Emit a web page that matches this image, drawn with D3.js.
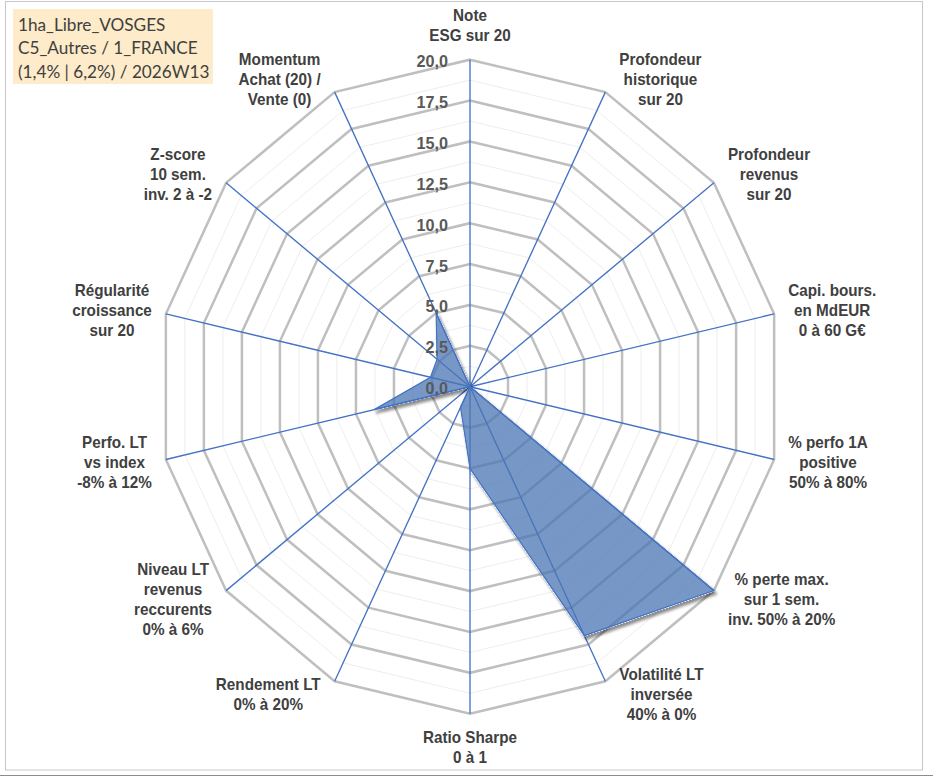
<!DOCTYPE html>
<html>
<head>
<meta charset="utf-8">
<script src="https://cdn.jsdelivr.net/npm/d3@7"></script>
<style>
  body { margin: 0; background: #fff; }
  svg { display: block; }
</style>
</head>
<body>
<script>
    // axis labels (clockwise from the top), one array of lines per axis
    var axisLabels = [
      ["Note", "ESG sur 20"],
      ["Profondeur", "historique", "sur 20"],
      ["Profondeur", "revenus", "sur 20"],
      ["Capi. bours.", "en MdEUR", "0 à 60 G€"],
      ["% perfo 1A", "positive", "50% à 80%"],
      ["% perte max.", "sur 1 sem.", "inv. 50% à 20%"],
      ["Volatilité LT", "inversée", "40% à 0%"],
      ["Ratio Sharpe", "0 à 1"],
      ["Rendement LT", "0% à 20%"],
      ["Niveau LT", "revenus", "reccurents", "0% à 6%"],
      ["Perfo. LT", "vs index", "-8% à 12%"],
      ["Régularité", "croissance", "sur 20"],
      ["Z-score", "10 sem.", "inv. 2 à -2"],
      ["Momentum", "Achat (20) /", "Vente (0)"]
    ];

    // notes sur 20
    var values = [0, 0, 0, 0, 0, 20, 16.9, 5.0, 1.4, 0, 6.3, 2.6, 2.7, 5.0];

    var tickValues = [0, 2.5, 5, 7.5, 10, 12.5, 15, 17.5, 20];
    var minorValues = [1.25, 3.75, 6.25, 8.75, 11.25, 13.75, 16.25, 18.75];

    var titleLines = ["1ha_Libre_VOSGES", "C5_Autres / 1_FRANCE", "(1,4% | 6,2%) / 2026W13"];

    var width = 933, height = 776;
    var cx = 470, cy = 386.7, R = 327, sx = 0.954;
    var n = axisLabels.length;

    var fr = d3.formatLocale({decimal: ",", thousands: " ", grouping: [3], currency: ["", " €"]});
    var fmt = fr.format(".1f");

    var svg = d3.select("body").append("svg")
        .attr("width", width)
        .attr("height", height);

    // shadow only outside the filled shape
    var f = svg.append("defs").append("filter")
        .attr("id", "shadow")
        .attr("x", "-20%").attr("y", "-20%")
        .attr("width", "140%").attr("height", "140%");
    f.append("feComponentTransfer").attr("in", "SourceAlpha").attr("result", "mask")
      .append("feFuncA").attr("type", "linear").attr("slope", 20);
    f.append("feGaussianBlur").attr("in", "mask").attr("stdDeviation", 1.6).attr("result", "b");
    f.append("feOffset").attr("in", "b").attr("dx", 2).attr("dy", 2.5).attr("result", "o");
    f.append("feComposite").attr("in", "o").attr("in2", "mask").attr("operator", "out").attr("result", "s");
    f.append("feComponentTransfer").attr("in", "s").attr("result", "s2")
      .append("feFuncA").attr("type", "linear").attr("slope", 0.45);
    var merge = f.append("feMerge");
    merge.append("feMergeNode").attr("in", "s2");
    merge.append("feMergeNode").attr("in", "SourceGraphic");

    // chart frame
    svg.append("rect")
        .attr("x", 5.5).attr("y", 1.5)
        .attr("width", 917).attr("height", 768.5)
        .attr("fill", "#fff")
        .attr("stroke", "#c9c9c9");
    svg.append("line")
        .attr("x1", 0).attr("x2", width)
        .attr("y1", 775.5).attr("y2", 775.5)
        .attr("stroke", "#8c8c8c");

    // scales
    var r = d3.scaleLinear().domain([0, 20]).range([0, R]);
    var angle = d3.scaleLinear().domain([0, n]).range([0, 2 * Math.PI]);
    var idx = d3.range(n);

    var ring = function(v){
      return d3.lineRadial()
          .angle(function(d){ return angle(d); })
          .radius(r(v))
          .curve(d3.curveLinearClosed)(idx);
    };

    var g = svg.append("g")
        .attr("transform", "translate(" + cx + "," + cy + ") scale(" + sx + ",1)");

    // grid rings
    g.selectAll("path.minor")
        .data(minorValues)
      .enter().append("path")
        .attr("class", "minor")
        .attr("d", function(d){ return ring(d); })
        .attr("fill", "none")
        .attr("stroke", "#ededed")
        .attr("stroke-width", 1);

    g.selectAll("path.major")
        .data(tickValues.filter(function(d){ return d > 0; }))
      .enter().append("path")
        .attr("class", "major")
        .attr("d", function(d){ return ring(d); })
        .attr("fill", "none")
        .attr("stroke", "#bfbfbf")
        .attr("stroke-width", 2.6);

    // spokes
    g.selectAll("line.spoke")
        .data(idx)
      .enter().append("line")
        .attr("class", "spoke")
        .attr("x1", 0).attr("y1", 0)
        .attr("x2", function(d){ return r(20) * Math.sin(angle(d)); })
        .attr("y2", function(d){ return -r(20) * Math.cos(angle(d)); })
        .attr("stroke", "#4472c4")
        .attr("stroke-width", 1.4);

    // series
    var area = d3.lineRadial()
        .angle(function(d, i){ return angle(i); })
        .radius(function(d){ return r(d); })
        .curve(d3.curveLinearClosed);

    g.append("path")
        .datum(values)
        .attr("d", area)
        .attr("fill", "#4a76b4")
        .attr("fill-opacity", 0.75)
        .attr("stroke", "#4472c4")
        .attr("stroke-width", 1.3)
        .attr("stroke-linejoin", "miter")
        .attr("filter", "url(#shadow)");

    // radial tick labels along the first axis
    g.selectAll("text.tick")
        .data(tickValues)
      .enter().append("text")
        .attr("class", "tick")
        .attr("x", -23)
        .attr("y", function(d){ return -r(d) + 1.5; })
        .attr("dy", "0.35em")
        .attr("text-anchor", "end")
        .attr("font-family", "'Liberation Sans', Arial, sans-serif")
        .attr("font-weight", "bold")
        .attr("font-size", "17px")
        .attr("fill", "#595959")
        .text(function(d){ return fmt(d); });

    // axis labels
    var lh = 20, pad = 14;
    var lab = g.selectAll("g.label")
        .data(axisLabels)
      .enter().append("g")
        .attr("class", "label");

    lab.each(function(lines, i){
      var el = d3.select(this);
      var k = lines.length;
      var t = el.selectAll("text")
          .data(lines)
        .enter().append("text")
          .attr("x", 0)
          .attr("y", function(d, j){ return (j - (k - 1) / 2) * lh; })
          .attr("dy", "0.35em")
          .attr("text-anchor", "middle")
          .attr("font-family", "'Liberation Sans', Arial, sans-serif")
          .attr("font-weight", "bold")
          .attr("font-size", "16px")
          .attr("fill", "#404040")
          .text(function(d){ return d; });

      var w = d3.max(t.nodes(), function(node){ return node.getComputedTextLength(); });
      var a = angle(i), dx = Math.sin(a), dy = -Math.cos(a);
      var ex = r(20) * dx, ey = r(20) * dy;
      var lx, ly;
      if (Math.abs(dx) < 1e-6) {
        lx = ex;
        ly = ey + (dy > 0 ? 1 : -1) * (k * lh / 2 + 14);
      } else {
        lx = ex + (dx > 0 ? 1 : -1) * (pad / sx + w / 2);
        ly = ey + dy * 14;
      }
      el.attr("transform", "translate(" + lx + "," + ly + ")");
    });

    // title box
    svg.append("rect")
        .attr("x", 13).attr("y", 9)
        .attr("width", 200).attr("height", 75)
        .attr("fill", "#fdebc9");

    svg.append("g")
        .attr("transform", "translate(18,0) scale(" + sx + ",1)")
      .selectAll("text")
        .data(titleLines)
      .enter().append("text")
        .attr("x", 0)
        .attr("y", function(d, i){ return 31 + i * 23.5; })
        .attr("font-family", "Lato, 'Open Sans', sans-serif")
        .attr("font-size", "18px")
        .attr("fill", "#404040")
        .text(function(d){ return d; });
</script>
</body>
</html>
